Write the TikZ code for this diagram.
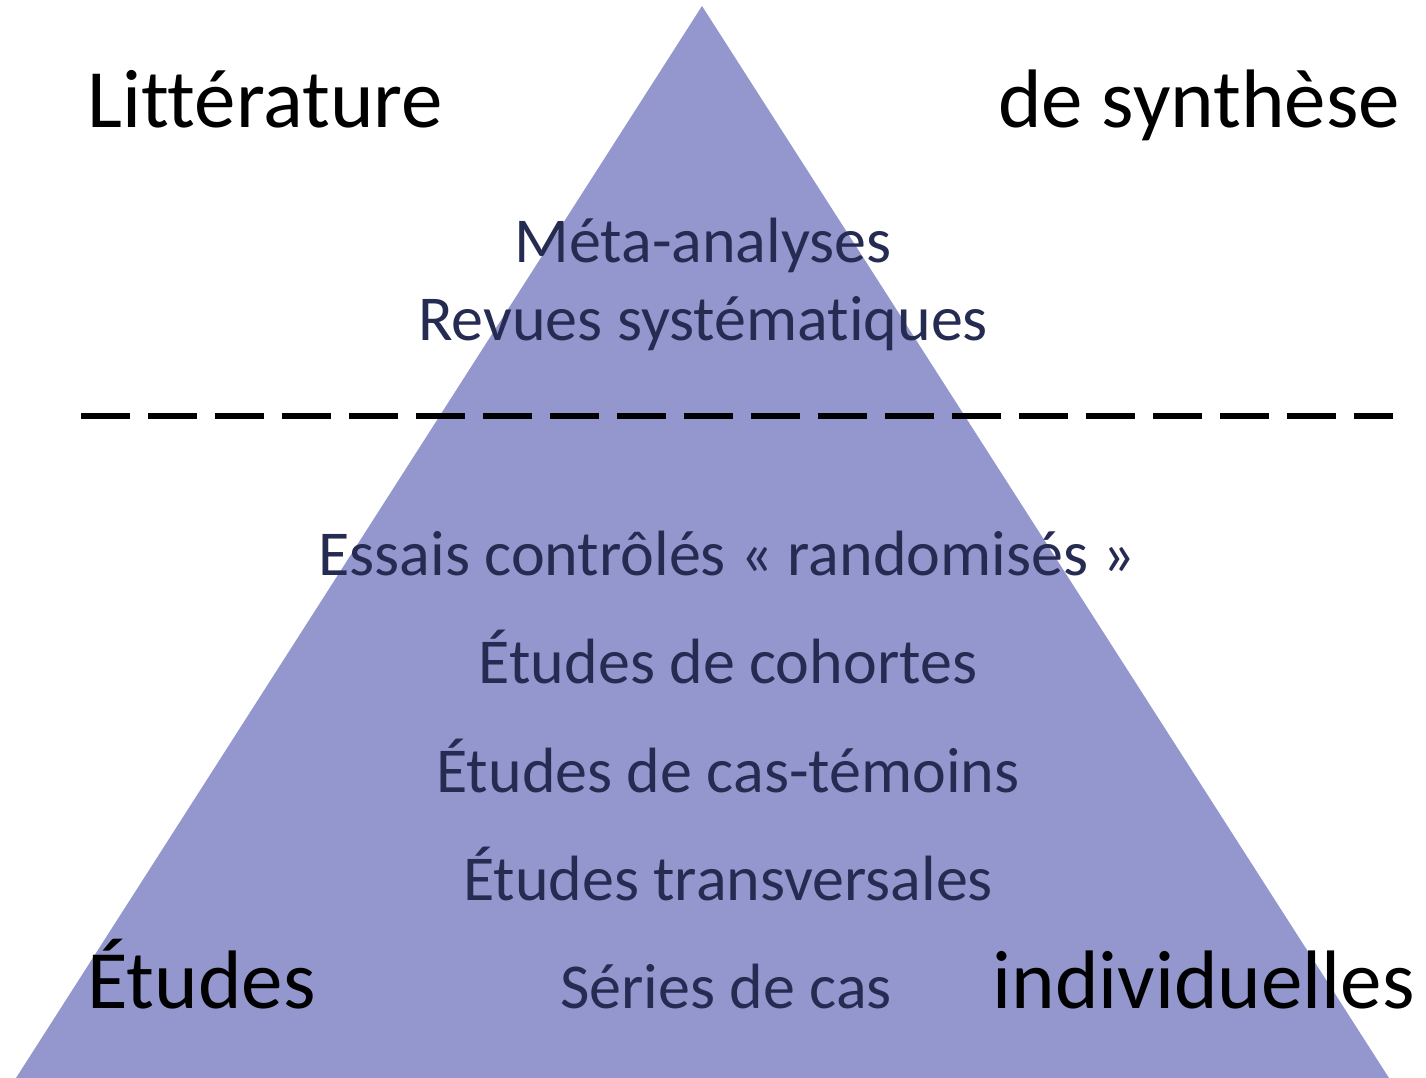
\documentclass[tikz,border=0pt]{standalone}
\usepackage{fontspec}
\setmainfont[Ligatures=NoCommon]{Carlito}
\definecolor{pyr}{HTML}{9397CE}
\definecolor{navy}{HTML}{262B52}
\begin{document}
\begin{tikzpicture}[x=1pt,y=-1pt,
  big/.style={font=\fontsize{83}{90}\selectfont, text=black, inner sep=0pt},
  mid/.style={font=\fontsize{64}{70}\selectfont, text=navy, inner sep=0pt, anchor=base}]
\useasboundingbox (0,0) rectangle (1426,1078);
\coordinate (apex) at (702,6);
\coordinate (bl) at (16,1078);
\coordinate (br) at (1389,1078);
\fill[pyr] (apex) -- (bl) -- (br) -- cycle;
\coordinate (dl) at (81,416);
\coordinate (dr) at (1393,416);
\draw[black, line width=6pt, dash pattern=on 49pt off 18pt] (dl) -- (dr);
\node[big, anchor=base west] (lit) at (87,128) {Littérature};
\node[big, anchor=base east] (syn) at (1400,128) {de synthèse};
\node[big, anchor=base west] (etu) at (87,1008) {Études};
\node[big, anchor=base east] (ind) at (1415,1008) {individuelles};
\node[mid] (meta) at (703,262) {Méta-analyses};
\node[mid] (rev) at (703,340) {Revues systématiques};
\node[mid] (ess) at (727,575) {Essais contrôlés « randomisés »};
\node[mid] (coh) at (728,683) {Études de cohortes};
\node[mid] (cas) at (728,792) {Études de cas-témoins};
\node[mid] (tra) at (728,900) {Études transversales};
\node[mid] (ser) at (726,1008) {Séries de cas};
\end{tikzpicture}
\end{document}
